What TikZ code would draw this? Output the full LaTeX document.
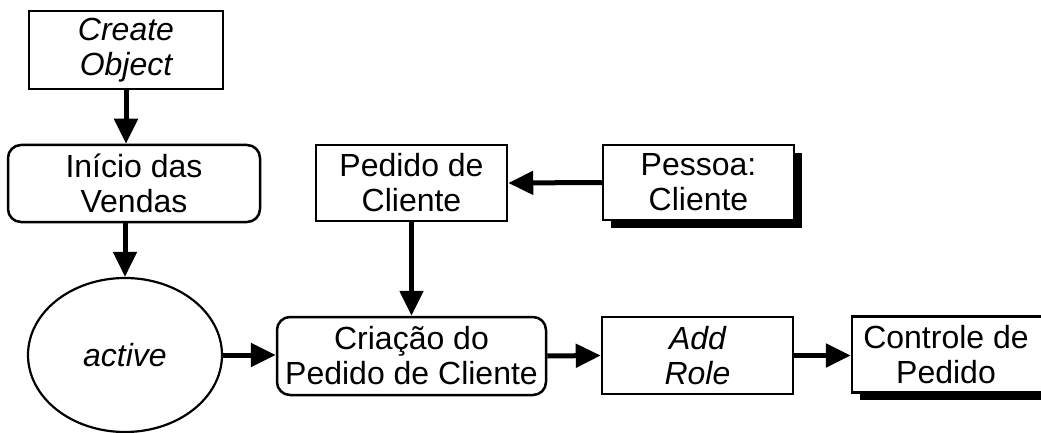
\documentclass[tikz,border=0pt]{standalone}
\usepackage{fontspec}
\setmainfont{Liberation Sans}
\usetikzlibrary{arrows.meta,shapes.geometric}

\tikzset{
  txt/.style={align=center, font=\fontsize{32}{35}\selectfont, inner sep=0pt},
  box/.style={txt, draw, line width=2.5pt, fill=white, rectangle},
  rbox/.style={box, rounded corners=13pt},
  state/.style={txt, draw, line width=2.2pt, ellipse, fill=white},
  flow/.style={line width=5pt, -{Triangle[length=25pt,width=23pt]}},
  shade/.style={fill=black},
}

\begin{document}
\begin{tikzpicture}[x=1pt,y=-1pt]
  \useasboundingbox (0,0) rectangle (1041,433);
  \clip (0,0) rectangle (1041,433);

  % drop shadows of the two terminal objects
  \fill[shade] (611,153) rectangle (802,228);
  \fill[shade] (860,325) rectangle (1062,400);

  % nodes
  \node[box, minimum width=194pt, minimum height=78pt] (create) at (126,50) {\itshape Create\\\itshape Object};
  \node[rbox, minimum width=252pt, minimum height=77pt] (inicio) at (134,183.5) {Início das\\Vendas};
  \node[state, minimum width=194pt, minimum height=154pt] (active) at (125,355) {\itshape active};
  \node[box, minimum width=191pt, minimum height=76pt] (pedido) at (411.5,183) {Pedido de\\Cliente};
  \node[box, minimum width=191pt, minimum height=75pt] (pessoa) at (698.5,182.5) {Pessoa:\\Cliente};
  \node[rbox, minimum width=269pt, minimum height=78pt] (criacao) at (411.5,356) {Criação do\\Pedido de Cliente};
  \node[box, minimum width=191pt, minimum height=77pt] (add) at (697.5,355.5) {\itshape Add\\\itshape Role};
  \node[box, minimum width=204pt, minimum height=76pt] (controle) at (954,354.5)
    {Controle de\hspace*{16pt}\\Pedido\hspace*{16pt}};

  % connectors
  \draw[flow] (create.south) -- (create.south |- inicio.north);
  \draw[flow] (active.north |- inicio.south) -- (active.north);
  \draw[flow] (pessoa.west) -- (pedido.east);
  \draw[flow] (pedido.south) -- (pedido.south |- criacao.north);
  \draw[flow] (active.east) -- (active.east -| criacao.west);
  \draw[flow] (criacao.east) -- (add.west);
  \draw[flow] (add.east) -- (add.east -| controle.west);
\end{tikzpicture}
\end{document}
